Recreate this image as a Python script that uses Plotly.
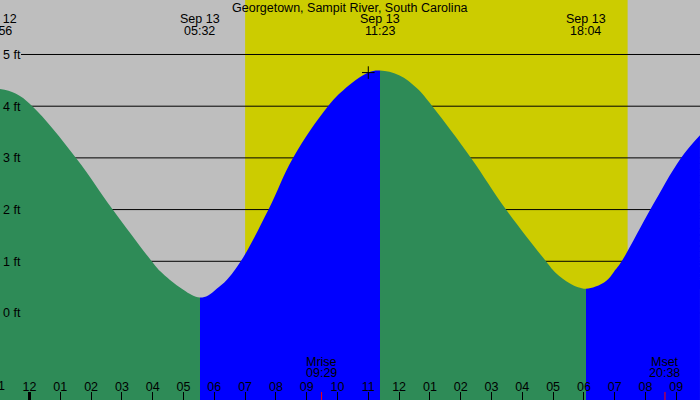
import plotly.graph_objs as go

title = "Georgetown, Sampit River, South Carolina"

# hours after midnight Sep 13 (negative = evening of Sep 12), tide height in ft
tide_hours = [-1.067, -0.471, 0.091, 1.510, 2.701, 3.968, 4.237, 4.562, 4.994, 5.270,
              5.533, 5.800, 6.078, 6.403, 6.860, 7.760, 8.555, 9.692, 10.188,
              11.000, 11.383, 12.000, 12.571, 13.078, 14.334, 15.471, 16.769, 17.062,
              17.549, 17.810, 18.067, 18.380, 18.740, 18.977, 19.227, 20.156, 21.153,
              21.769]
tide_ft = [4.34, 4.25, 4.00, 3.00, 2.00, 1.00, 0.81, 0.64, 0.45, 0.35,
           0.30, 0.34, 0.47, 0.64, 1.00, 2.00, 3.00, 4.00, 4.31,
           4.65, 4.69, 4.60, 4.35, 4.00, 3.00, 2.00, 1.00, 0.79,
           0.57, 0.50, 0.47, 0.51, 0.63, 0.80, 1.00, 2.00, 3.00,
           3.44]

# high / low tides
extreme_hours = [-1.067, 5.533, 11.383, 18.067]
extreme_kind = ["high", "low", "high", "low"]
extreme_dates = ["Sep 12", "Sep 13", "Sep 13", "Sep 13"]
extreme_times = ["22:56", "05:32", "11:23", "18:04"]

sunrise, sunset = 7.0, 19.42

moon_hours = [9.483, 20.633]
moon_names = ["Mrise", "Mset"]
moon_times = ["09:29", "20:38"]

now_hour, now_ft = 11.0, 4.65

tick_hours = list(range(-1, 22))
tick_text = ["%02d" % (h % 12 or 12) for h in tick_hours]
ft_levels = [0, 1, 2, 3, 4, 5]

x_range = [-0.958, 21.77]
y_range = [-1.683, 6.054]

GREY = "#BEBEBE"
DAY = "#CCCC00"
FALL = "#2E8B57"
RISE = "#0000FF"
FONT = dict(family="Liberation Sans, Arial, sans-serif", size=12.5, color="black")


def xfrac(h):
    return (h - x_range[0]) / (x_range[1] - x_range[0])


def ypx(px):
    return 1 - px / 400.0


# colour the fill green while falling, blue while rising
t0, t1 = tide_hours[0], tide_hours[-1]
scale = [[0, FALL]]
color = FALL
for h, kind in zip(extreme_hours, extreme_kind):
    if h <= t0:
        continue
    f = (h - t0) / (t1 - t0)
    scale.append([f, color])
    color = RISE if kind == "low" else FALL
    scale.append([min(f + 1e-4, 1), color])
scale.append([1, color])

fig = go.Figure()
fig.add_trace(go.Scatter(x=[t0, t1], y=[y_range[0], y_range[0]], mode="lines",
                         line=dict(width=0), hoverinfo="skip", showlegend=False))
fig.add_trace(go.Scatter(x=tide_hours, y=tide_ft, mode="lines",
                         line=dict(width=0, shape="spline", smoothing=1.1), fill="tonexty",
                         fillgradient=dict(type="horizontal", colorscale=scale,
                                           start=t0, stop=t1),
                         hoverinfo="skip", showlegend=False))
fig.add_trace(go.Scatter(x=[now_hour], y=[now_ft], mode="markers",
                         marker=dict(symbol="cross-thin", size=9, color="black",
                                     line=dict(width=1, color="black")),
                         hoverinfo="skip", showlegend=False))

shapes = [dict(type="rect", xref="x", yref="paper", x0=sunrise, x1=sunset, y0=0, y1=1,
               fillcolor=DAY, line=dict(width=0), layer="below")]
for lv in ft_levels:
    shapes.append(dict(type="line", xref="paper", yref="y", x0=0.03, x1=1, y0=lv, y1=lv,
                       line=dict(color="black", width=1), layer="below"))
# thick midnight tick
shapes.append(dict(type="line", xref="x", yref="paper", x0=0, x1=0, ysizemode="pixel",
                   yanchor=0, y0=0, y1=8, line=dict(color="black", width=3)))
for mh in moon_hours:
    shapes.append(dict(type="line", xref="x", yref="paper", x0=mh, x1=mh, ysizemode="pixel",
                       yanchor=0, y0=0, y1=8, line=dict(color="red", width=1)))

annotations = [dict(text=title, xref="paper", yref="paper", x=0.5, y=ypx(7.5),
                    showarrow=False, font=FONT, xanchor="center", yanchor="middle")]
for h, d, t in zip(extreme_hours, extreme_dates, extreme_times):
    annotations.append(dict(text=d, xref="paper", yref="paper", x=xfrac(h), y=ypx(19.5),
                            showarrow=False, font=FONT, xanchor="center", yanchor="middle"))
    annotations.append(dict(text=t, xref="paper", yref="paper", x=xfrac(h), y=ypx(31.5),
                            showarrow=False, font=FONT, xanchor="center", yanchor="middle"))
for h, n, t in zip(moon_hours, moon_names, moon_times):
    annotations.append(dict(text=n, xref="paper", yref="paper", x=xfrac(h), y=ypx(361.5),
                            showarrow=False, font=FONT, xanchor="center", yanchor="middle"))
    annotations.append(dict(text=t, xref="paper", yref="paper", x=xfrac(h), y=ypx(373),
                            showarrow=False, font=FONT, xanchor="center", yanchor="middle"))
# hour label left of the visible range, cut by the page edge
for h, t in zip(tick_hours, tick_text):
    if h < x_range[0]:
        annotations.append(dict(text=t, xref="paper", yref="paper", x=xfrac(h), y=ypx(386),
                                showarrow=False, font=FONT, xanchor="center",
                                yanchor="middle"))

fig.update_layout(
    width=700, height=400,
    margin=dict(l=0, r=0, t=0, b=0),
    paper_bgcolor=GREY, plot_bgcolor="rgba(0,0,0,0)",
    shapes=shapes, annotations=annotations,
    xaxis=dict(range=x_range, tickvals=tick_hours, ticktext=tick_text,
               ticks="inside", ticklen=8, tickwidth=1, tickcolor="black",
               ticklabelposition="inside", ticklabelstandoff=-2, tickfont=FONT,
               showgrid=False, zeroline=False, showline=False, fixedrange=True),
    yaxis=dict(range=y_range, tickvals=ft_levels,
               ticktext=["%d ft" % v for v in ft_levels],
               ticks="", ticklabelposition="inside", tickfont=FONT,
               showgrid=False, zeroline=False, showline=False, fixedrange=True),
)

fig.write_html("out.html", config={"displayModeBar": False},
               post_script="document.body.style.margin='0';")
